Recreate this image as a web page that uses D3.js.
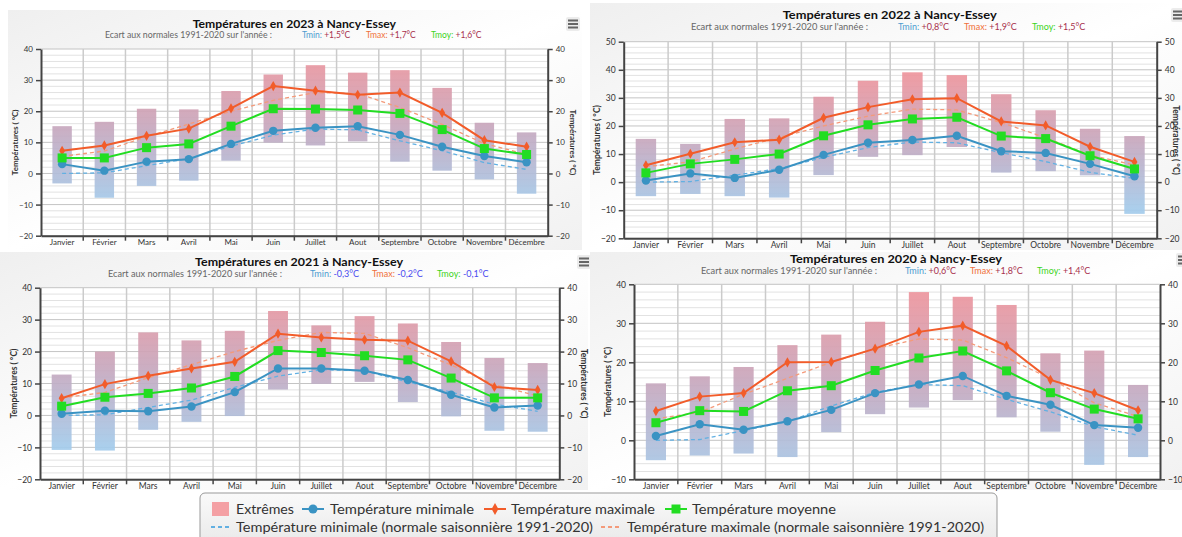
<!DOCTYPE html>
<html>
<head>
<meta charset="utf-8">
<script src="https://cdn.jsdelivr.net/npm/d3@7"></script>
<style>
  body { margin: 0; background: #fff; }
  svg { display: block; font-family: Lato, "DejaVu Sans", sans-serif; }
</style>
</head>
<body>
<svg id="chart" width="1182" height="537"></svg>
<script>
// months and the 1991-2020 seasonal normals (same on every panel)
let months = ["Janvier", "Février", "Mars", "Avril", "Mai", "Juin", "Juillet", "Aout", "Septembre", "Octobre", "Novembre", "Décembre"];
let normTmin = [0.0, 0.2, 2.5, 4.8, 8.8, 12.3, 14.3, 14.0, 10.5, 7.3, 3.5, 1.3];
let normTmax = [5.5, 7.2, 11.8, 15.9, 20.0, 23.5, 26.0, 25.7, 21.2, 15.8, 9.6, 6.1];

// 2023
let tmin2023 = [3.0, 0.9, 3.8, 4.6, 9.5, 13.7, 14.7, 15.2, 12.4, 8.6, 5.6, 3.6];
let tmax2023 = [7.3, 9.0, 12.1, 14.4, 20.9, 28.1, 26.6, 25.3, 26.0, 19.5, 10.7, 8.6];
let tmoy2023 = [5.0, 5.0, 8.3, 9.5, 15.2, 20.8, 20.7, 20.4, 19.3, 14.1, 8.0, 6.1];
let extHi2023 = [15.2, 16.6, 20.8, 20.6, 26.5, 31.8, 34.8, 32.4, 33.2, 27.5, 16.3, 13.2];
let extLo2023 = [-3.2, -7.8, -4.0, -2.3, 4.1, 9.9, 9.0, 10.3, 3.8, 0.9, -1.9, -6.5];
let ecart2023 = ["+1,5°C", "+1,7°C", "+1,6°C"];

// 2022
let tmin2022 = [0.6, 3.1, 1.5, 4.4, 9.7, 14.0, 15.0, 16.5, 11.0, 10.4, 6.5, 2.1];
let tmax2022 = [6.0, 10.1, 14.2, 15.1, 22.9, 26.7, 29.5, 29.9, 21.6, 20.2, 12.6, 7.2];
let tmoy2022 = [3.3, 6.5, 8.1, 10.0, 16.5, 20.4, 22.5, 23.1, 16.4, 15.5, 9.4, 4.7];
let extHi2022 = [15.4, 13.6, 22.5, 22.7, 30.4, 36.1, 39.1, 38.1, 31.3, 25.6, 19.0, 16.4];
let extLo2022 = [-5.0, -4.2, -5.0, -5.5, 2.5, 9.0, 9.6, 12.5, 3.4, 3.9, 2.4, -11.3];
let ecart2022 = ["+0,8°C", "+1,9°C", "+1,5°C"];

// 2021
let tmin2021 = [0.5, 1.5, 1.3, 2.8, 7.3, 14.7, 14.7, 14.0, 11.1, 6.5, 2.5, 3.1];
let tmax2021 = [5.4, 9.8, 12.4, 14.7, 16.8, 25.6, 24.4, 23.7, 23.4, 16.9, 8.9, 8.0];
let tmoy2021 = [2.9, 5.7, 6.9, 8.6, 12.2, 20.3, 19.7, 18.7, 17.4, 11.7, 5.5, 5.5];
let extHi2021 = [12.8, 20.0, 26.0, 23.5, 26.5, 32.7, 28.2, 31.1, 28.8, 23.0, 18.0, 16.4];
let extLo2021 = [-10.8, -11.0, -4.5, -2.0, -0.2, 8.1, 9.9, 10.5, 4.2, -0.3, -4.8, -5.1];
let ecart2021 = ["-0,3°C", "-0,2°C", "-0,1°C"];

// 2020
let tmin2020 = [1.1, 4.1, 2.7, 4.9, 7.8, 12.1, 14.3, 16.5, 11.4, 9.1, 3.9, 3.2];
let tmax2020 = [7.5, 11.2, 12.1, 20.0, 20.1, 23.5, 27.8, 29.4, 24.2, 15.5, 12.1, 7.7];
let tmoy2020 = [4.5, 7.6, 7.4, 12.7, 14.0, 17.9, 21.1, 22.9, 17.8, 12.2, 8.0, 5.5];
let extHi2020 = [14.6, 16.4, 18.8, 24.4, 27.1, 30.4, 38.0, 36.8, 34.7, 22.3, 23.0, 14.2];
let extLo2020 = [-5.1, -3.9, -3.4, -4.3, 2.1, 6.7, 8.4, 10.3, 5.9, 2.2, -6.3, -4.3];
let ecart2020 = ["+0,6°C", "+1,8°C", "+1,4°C"];

let colMin = "#3a93c3", colMax = "#f25c2a", colMoy = "#22dd22";
let colNormMin = "#62b0e2", colNormMax = "#f49a7a";

let svg = d3.select("#chart");
let defs = svg.append("defs");

let bg = defs.append("linearGradient").attr("id", "panelBg")
  .attr("x1", 0).attr("y1", 0).attr("x2", 1).attr("y2", 1);
bg.append("stop").attr("offset", 0).attr("stop-color", "#efefef");
bg.append("stop").attr("offset", 0.5).attr("stop-color", "#ffffff");
bg.append("stop").attr("offset", 1).attr("stop-color", "#f1f1f1");

let legBg = defs.append("linearGradient").attr("id", "legBg")
  .attr("x1", 0).attr("y1", 0).attr("x2", 0).attr("y2", 1);
legBg.append("stop").attr("offset", 0).attr("stop-color", "#fafafa");
legBg.append("stop").attr("offset", 1).attr("stop-color", "#e9e9e9");

//layout of the 4 panels (positions only)
let panels = [
  { year: "2023", tmin: tmin2023, tmax: tmax2023, tmoy: tmoy2023, hi: extHi2023, lo: extLo2023, ecart: ecart2023,
    domain: [-20, 40], box: [8, 10, 574, 240], plot: [41, 49, 547.7, 235.7],
    titleY: 28, titleX: [192.7, 396], subY: 38, subX: [105, 272], itemX: [302, 366, 431],
    monthY: 245, yTitle: [18, 570], menu: [573, 24], fs: 8 },
  { year: "2022", tmin: tmin2022, tmax: tmax2022, tmoy: tmoy2022, hi: extHi2022, lo: extLo2022, ecart: ecart2022,
    domain: [-20, 50], box: [590, 3, 592, 247], plot: [623.7, 41.7, 1156.7, 238.3],
    titleY: 19, titleX: [782.7, 996.7], subY: 29.5, subX: [691, 868], itemX: [898, 964, 1032],
    monthY: 247.5, yTitle: [600, 1173], menu: [1178, 15], fs: 8.5 },
  { year: "2021", tmin: tmin2021, tmax: tmax2021, tmoy: tmoy2021, hi: extHi2021, lo: extLo2021, ecart: ecart2021,
    domain: [-20, 40], box: [0, 252, 588, 238], plot: [40, 287.7, 559.3, 479.3],
    titleY: 266, titleX: [195, 403], subY: 277, subX: [108, 282], itemX: [310, 372, 437],
    monthY: 488.5, yTitle: [17, 581], menu: [584, 262], fs: 8.5 },
  { year: "2020", tmin: tmin2020, tmax: tmax2020, tmoy: tmoy2020, hi: extHi2020, lo: extLo2020, ecart: ecart2020,
    domain: [-10, 40], box: [590, 252, 592, 238], plot: [634, 284.3, 1160, 479.3],
    titleY: 262.5, titleX: [790, 1002], subY: 273.5, subX: [701, 877], itemX: [905, 970, 1037],
    monthY: 488.5, yTitle: [611, null], menu: [1183, 260], fs: 8.5 }
];

function fit(sel, w) {
  return sel.attr("textLength", w).attr("lengthAdjust", "spacingAndGlyphs");
}

function menuIcon(g, cx, cy) {
  g.append("rect").attr("x", cx - 7).attr("y", cy - 7).attr("width", 14).attr("height", 14)
    .attr("rx", 2).attr("fill", "#ececec");
  [-3.5, 0, 3.5].forEach(d => {
    g.append("line").attr("x1", cx - 5).attr("x2", cx + 5).attr("y1", cy + d).attr("y2", cy + d)
      .attr("stroke", "#666").attr("stroke-width", 2);
  });
}

function drawPanel(p) {
  let g = svg.append("g");
  let [left, top, right, bottom] = p.plot;
  let [lo, hi] = p.domain;

  g.append("rect").attr("x", p.box[0]).attr("y", p.box[1]).attr("width", p.box[2]).attr("height", p.box[3])
    .attr("fill", "url(#panelBg)");

  let x = d3.scaleBand().domain(months).range([left, right]);
  let y = d3.scaleLinear().domain(p.domain).range([bottom, top]);
  let bw = x.bandwidth();
  let cx = (d, i) => x(months[i]) + bw / 2;

  g.append("rect").attr("x", left).attr("y", top).attr("width", right - left).attr("height", bottom - top)
    .attr("fill", "#fff");

  // grid
  g.append("g").selectAll("line").data(d3.range(lo, hi + 0.1, 2).filter(v => v % 10 != 0)).join("line")
    .attr("x1", left).attr("x2", right).attr("y1", d => y(d)).attr("y2", d => y(d))
    .attr("stroke", "#e2e2e2").attr("stroke-width", 1);
  g.append("g").selectAll("line").data(d3.range(lo, hi + 0.1, 10)).join("line")
    .attr("x1", left).attr("x2", right).attr("y1", d => y(d)).attr("y2", d => y(d))
    .attr("stroke", "#c4c4c4").attr("stroke-width", 1);
  g.append("g").selectAll("line").data(months.slice(1)).join("line")
    .attr("x1", d => x(d)).attr("x2", d => x(d)).attr("y1", top).attr("y2", bottom)
    .attr("stroke", "#cbcbcb").attr("stroke-width", 1.5);

  // bar gradient, red for hot, blue for cold
  let grad = defs.append("linearGradient").attr("id", "bar" + p.year)
    .attr("gradientUnits", "userSpaceOnUse")
    .attr("x1", 0).attr("x2", 0).attr("y1", y(40)).attr("y2", y(-10));
  grad.append("stop").attr("offset", 0).attr("stop-color", "#f0939a");
  grad.append("stop").attr("offset", 0.5).attr("stop-color", "#c7a7bd");
  grad.append("stop").attr("offset", 1).attr("stop-color", "#a3cbeb");

  let barW = bw * 0.46;
  g.append("g").selectAll("rect").data(p.hi).join("rect")
    .attr("x", (d, i) => cx(d, i) - barW / 2)
    .attr("y", d => y(d))
    .attr("width", barW)
    .attr("height", (d, i) => y(p.lo[i]) - y(d))
    .attr("fill", "url(#bar" + p.year + ")")
    .attr("opacity", 0.92);

  let line = d3.line().x(cx).y(d => y(d));

  g.append("path").datum(normTmin).attr("d", line).attr("fill", "none")
    .attr("stroke", colNormMin).attr("stroke-width", 1.3).attr("stroke-dasharray", "4,3");
  g.append("path").datum(normTmax).attr("d", line).attr("fill", "none")
    .attr("stroke", colNormMax).attr("stroke-width", 1.3).attr("stroke-dasharray", "4,3");

  g.append("path").datum(p.tmin).attr("d", line).attr("fill", "none").attr("stroke", colMin).attr("stroke-width", 2);
  g.append("path").datum(p.tmax).attr("d", line).attr("fill", "none").attr("stroke", colMax).attr("stroke-width", 2);
  g.append("path").datum(p.tmoy).attr("d", line).attr("fill", "none").attr("stroke", colMoy).attr("stroke-width", 2);

  g.append("g").selectAll("circle").data(p.tmin).join("circle")
    .attr("cx", cx).attr("cy", d => y(d)).attr("r", 4.2).attr("fill", colMin);
  g.append("g").selectAll("path").data(p.tmax).join("path")
    .attr("d", d3.symbol(d3.symbolDiamond, 30))
    .attr("transform", (d, i) => `translate(${cx(d, i)},${y(d)})`).attr("fill", colMax);
  g.append("g").selectAll("rect").data(p.tmoy).join("rect")
    .attr("x", (d, i) => cx(d, i) - 4.5).attr("y", d => y(d) - 4.5)
    .attr("width", 9).attr("height", 9).attr("fill", colMoy);

  // axes
  let ticks = d3.range(lo, hi + 0.1, 10);
  let axL = g.append("g").attr("transform", `translate(${left},0)`)
    .call(d3.axisLeft(y).tickValues(ticks).tickSize(5).tickSizeOuter(0).tickPadding(3));
  let axR = g.append("g").attr("transform", `translate(${right},0)`)
    .call(d3.axisRight(y).tickValues(ticks).tickSize(5).tickSizeOuter(0).tickPadding(3));
  let axB = g.append("g").attr("transform", `translate(0,${bottom})`)
    .call(d3.axisBottom(x).tickSize(0).tickSizeOuter(0).tickPadding(p.monthY - bottom - 6));
  g.append("g").selectAll("line").data(months.slice(1)).join("line")
    .attr("x1", d => x(d)).attr("x2", d => x(d)).attr("y1", bottom).attr("y2", bottom + 5)
    .attr("stroke", "#444").attr("stroke-width", 1.5);
  [axL, axR, axB].forEach(a => {
    a.select(".domain").attr("stroke", "#444").attr("stroke-width", 2);
    a.selectAll(".tick line").attr("stroke", "#444").attr("stroke-width", 1.5);
    a.selectAll("text").attr("fill", "#333").attr("font-size", p.fs).attr("font-family", "Lato, sans-serif");
  });

  // titles
  let midY = (top + bottom) / 2;
  g.append("text").attr("transform", `translate(${p.yTitle[0]},${midY}) rotate(-90)`)
    .attr("text-anchor", "middle").attr("font-size", p.fs).attr("font-weight", "bold").attr("fill", "#333")
    .text("Températures ( °C)");
  if (p.yTitle[1] != null) {
    g.append("text").attr("transform", `translate(${p.yTitle[1]},${midY}) rotate(90)`)
      .attr("text-anchor", "middle").attr("font-size", p.fs).attr("font-weight", "bold").attr("fill", "#333")
      .text("Températures ( °C)");
  }

  fit(g.append("text").attr("x", p.titleX[0]).attr("y", p.titleY)
    .attr("font-size", 12).attr("font-weight", "bold").attr("fill", "#111")
    .text(`Températures en ${p.year} à Nancy-Essey`), p.titleX[1] - p.titleX[0]);

  fit(g.append("text").attr("x", p.subX[0]).attr("y", p.subY)
    .attr("font-size", p.fs + 0.5).attr("fill", "#666")
    .text("Ecart aux normales 1991-2020 sur l'année :"), p.subX[1] - p.subX[0]);

  let labels = ["Tmin: ", "Tmax: ", "Tmoy: "];
  let labelCols = ["#4b9bd0", "#f0703a", "#3cd41c"];
  labels.forEach((lab, k) => {
    let t = g.append("text").attr("x", p.itemX[k]).attr("y", p.subY).attr("font-size", p.fs + 0.5);
    t.append("tspan").attr("fill", labelCols[k]).text(lab);
    t.append("tspan").attr("fill", p.ecart[k][0] == "-" ? "#4a4af0" : "#a8304c").text(p.ecart[k]);
  });

  menuIcon(g, p.menu[0], p.menu[1]);
}

panels.forEach(drawPanel);

// legend
let leg = svg.append("g");
leg.append("rect").attr("x", 200).attr("y", 493).attr("width", 797).attr("height", 52).attr("rx", 5)
  .attr("fill", "url(#legBg)").attr("stroke", "#999").attr("stroke-width", 1);

let r1 = 514, r2 = 532;
leg.append("rect").attr("x", 212).attr("y", r1 - 12).attr("width", 17).attr("height", 14).attr("fill", "#f4a0a4");
fit(leg.append("text").attr("x", 236).attr("y", r1).attr("font-size", 13).attr("fill", "#333").text("Extrêmes"), 58);

let legItems = [
  { x0: 302, name: "Température minimale", tx: 330, col: colMin, mark: "circle" },
  { x0: 484, name: "Température maximale", tx: 511, col: colMax, mark: "diamond" },
  { x0: 665, name: "Température moyenne", tx: 692, col: colMoy, mark: "square" }
];
legItems.forEach(it => {
  leg.append("line").attr("x1", it.x0).attr("x2", it.x0 + 22).attr("y1", r1 - 5).attr("y2", r1 - 5)
    .attr("stroke", it.col).attr("stroke-width", 2);
  let mx = it.x0 + 11, my = r1 - 5;
  if (it.mark == "circle") leg.append("circle").attr("cx", mx).attr("cy", my).attr("r", 4.5).attr("fill", it.col);
  if (it.mark == "diamond") leg.append("path").attr("d", d3.symbol(d3.symbolDiamond, 40))
    .attr("transform", `translate(${mx},${my})`).attr("fill", it.col);
  if (it.mark == "square") leg.append("rect").attr("x", mx - 4.5).attr("y", my - 4.5).attr("width", 9).attr("height", 9).attr("fill", it.col);
  fit(leg.append("text").attr("x", it.tx).attr("y", r1).attr("font-size", 13).attr("fill", "#333").text(it.name), 144);
});

let legNorm = [
  { x0: 211, name: "Température minimale (normale saisonnière 1991-2020)", tx: 236, col: colNormMin },
  { x0: 601, name: "Température maximale (normale saisonnière 1991-2020)", tx: 627, col: colNormMax }
];
legNorm.forEach(it => {
  leg.append("line").attr("x1", it.x0).attr("x2", it.x0 + 21).attr("y1", r2 - 5).attr("y2", r2 - 5)
    .attr("stroke", it.col).attr("stroke-width", 2).attr("stroke-dasharray", "4,3");
  fit(leg.append("text").attr("x", it.tx).attr("y", r2).attr("font-size", 13).attr("fill", "#333").text(it.name), 357);
});
</script>
</body>
</html>
